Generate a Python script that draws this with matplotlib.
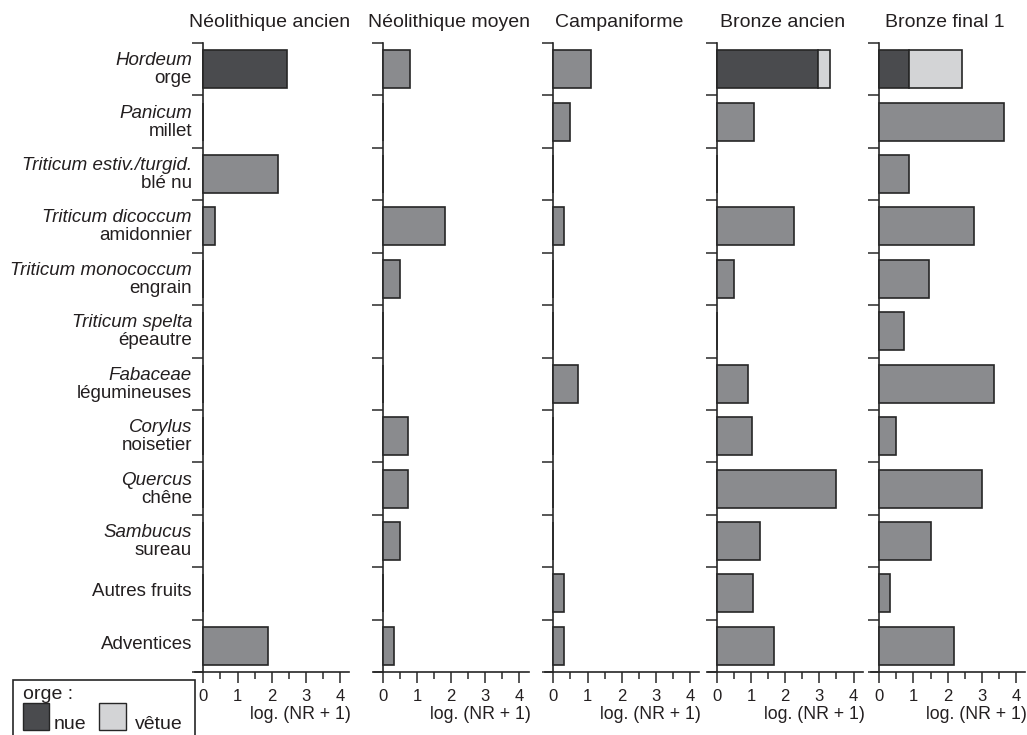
import matplotlib
matplotlib.use('Agg')
import matplotlib.pyplot as plt
from matplotlib.patches import Rectangle
from matplotlib.ticker import FixedLocator

plt.rcParams['font.family'] = ['Liberation Sans', 'DejaVu Sans']

periods = ["Néolithique ancien", "Néolithique moyen", "Campaniforme",
           "Bronze ancien", "Bronze final 1"]
taxa_latin = ["Hordeum", "Panicum", "Triticum estiv./turgid.", "Triticum dicoccum",
              "Triticum monococcum", "Triticum spelta", "Fabaceae", "Corylus",
              "Quercus", "Sambucus", "", ""]
taxa_fr = ["orge", "millet", "blé nu", "amidonnier", "engrain", "épeautre",
           "légumineuses", "noisetier", "chêne", "sureau", "Autres fruits", "Adventices"]

# log(NR + 1), undifferentiated (grey) bars
neo_ancien = [0, 0, 2.19, 0.34, 0, 0, 0, 0, 0, 0, 0, 1.88]
neo_moyen = [0.79, 0, 0, 1.82, 0.50, 0, 0, 0.73, 0.73, 0.50, 0, 0.32]
campaniforme = [1.10, 0.49, 0, 0.32, 0, 0, 0.72, 0, 0, 0, 0.32, 0.32]
bronze_ancien = [0, 1.09, 0, 2.27, 0.50, 0, 0.92, 1.04, 3.50, 1.27, 1.07, 1.68]
bronze_final = [0, 3.66, 0.86, 2.78, 1.45, 0.72, 3.35, 0.49, 2.99, 1.50, 0.32, 2.19]
# orge (Hordeum) split: nue / vêtue (stacked)
orge_nue = [2.46, 0, 0, 2.97, 0.87]
orge_vetue = [0, 0, 0, 0.34, 1.54]

series = [neo_ancien, neo_moyen, campaniforme, bronze_ancien, bronze_final]

C_GREY = '#8a8b8e'
C_NUE = '#4a4b4e'
C_VETUE = '#d3d4d6'
C_EDGE = '#262626'
C_TEXT = '#231f20'

W, H = 1027, 735
fig = plt.figure(figsize=(W / 100, H / 100), dpi=100)

def fx(x):
    return x / W

def fy(y):
    return 1 - y / H

zeros = [203.3, 382.7, 553.3, 716.7, 879.3]
u = 34.2
xmin, xmax = -0.24, 4.27
top, bottom = 43, 672
n = len(taxa_fr)
row_px = (bottom - top) / n
bh = 0.725
FS = 13.5

for i, (z, name, vals) in enumerate(zip(zeros, periods, series)):
    left = z + xmin * u
    right = z + xmax * u
    ax = fig.add_axes([fx(left), fy(bottom), (right - left) / W, (bottom - top) / H])
    ax.set_xlim(xmin, xmax)
    ax.set_ylim(n, 0)
    ax.patch.set_alpha(0)
    for s in ['top', 'right']:
        ax.spines[s].set_visible(False)
    ax.spines['left'].set_position(('data', 0))
    for s in ['left', 'bottom']:
        ax.spines[s].set_linewidth(1.2)
        ax.spines[s].set_color(C_EDGE)
    ys = [k + 0.5 for k in range(n)]
    ax.barh(ys, vals, height=bh, color=C_GREY, edgecolor=C_EDGE, linewidth=1.2, zorder=3)
    if orge_nue[i] > 0:
        ax.barh([0.5], [orge_nue[i]], height=bh, color=C_NUE, edgecolor=C_EDGE,
                linewidth=1.2, zorder=3)
    if orge_vetue[i] > 0:
        ax.barh([0.5], [orge_vetue[i]], left=[orge_nue[i]], height=bh, color=C_VETUE,
                edgecolor=C_EDGE, linewidth=1.2, zorder=3)
    ax.yaxis.set_major_locator(FixedLocator(list(range(n + 1))))
    ax.set_yticklabels([])
    ax.tick_params(axis='y', direction='out', length=8, width=1.2, color='#3a3a3a')
    ax.xaxis.set_major_locator(FixedLocator([0, 1, 2, 3, 4]))
    ax.xaxis.set_minor_locator(FixedLocator([0.5, 1.5, 2.5, 3.5]))
    ax.tick_params(axis='x', which='major', direction='out', length=8, width=1.2,
                   color='#3a3a3a', labelsize=12, pad=4, labelcolor=C_TEXT)
    ax.tick_params(axis='x', which='minor', direction='out', length=5, width=1.2,
                   color='#3a3a3a')
    # title
    fig.text(fx((left + right) / 2 - 3), fy(27), name, ha='center', va='baseline',
             fontsize=14, color=C_TEXT)
    # x label
    fig.text(fx(right + 2), fy(719), 'log. (NR + 1)', ha='right', va='baseline',
             fontsize=12.7, color=C_TEXT)

# category labels (left of first panel)
lab_x = fx(192)
for k in range(n):
    ctr = top + (k + 0.5) * row_px
    if taxa_latin[k]:
        fig.text(lab_x, fy(ctr - 4), taxa_latin[k], ha='right', va='baseline',
                 fontsize=FS, style='italic', color=C_TEXT)
        fig.text(lab_x, fy(ctr + 14), taxa_fr[k], ha='right', va='baseline',
                 fontsize=FS, color=C_TEXT)
    else:
        fig.text(lab_x, fy(ctr + 3), taxa_fr[k], ha='right', va='baseline',
                 fontsize=FS, color=C_TEXT)

# legend
LFS = 14
fig.patches.append(Rectangle((fx(12.7), fy(750)), (195 - 12.7) / W, (750 - 680) / H,
                             transform=fig.transFigure, fill=False, edgecolor=C_EDGE,
                             linewidth=1.2))
fig.text(fx(22.7), fy(699), 'orge :', ha='left', va='baseline', fontsize=LFS, color=C_TEXT)
fig.patches.append(Rectangle((fx(22.7), fy(730)), 26.6 / W, 27 / H, transform=fig.transFigure,
                             facecolor=C_NUE, edgecolor=C_EDGE, linewidth=1.0))
fig.text(fx(53.3), fy(729), 'nue', ha='left', va='baseline', fontsize=LFS, color=C_TEXT)
fig.patches.append(Rectangle((fx(99.3), fy(730)), 26.6 / W, 27 / H, transform=fig.transFigure,
                             facecolor=C_VETUE, edgecolor=C_EDGE, linewidth=1.0))
fig.text(fx(135), fy(729), 'vêtue', ha='left', va='baseline', fontsize=LFS, color=C_TEXT)

fig.savefig('out.png', dpi=100, facecolor='white')
